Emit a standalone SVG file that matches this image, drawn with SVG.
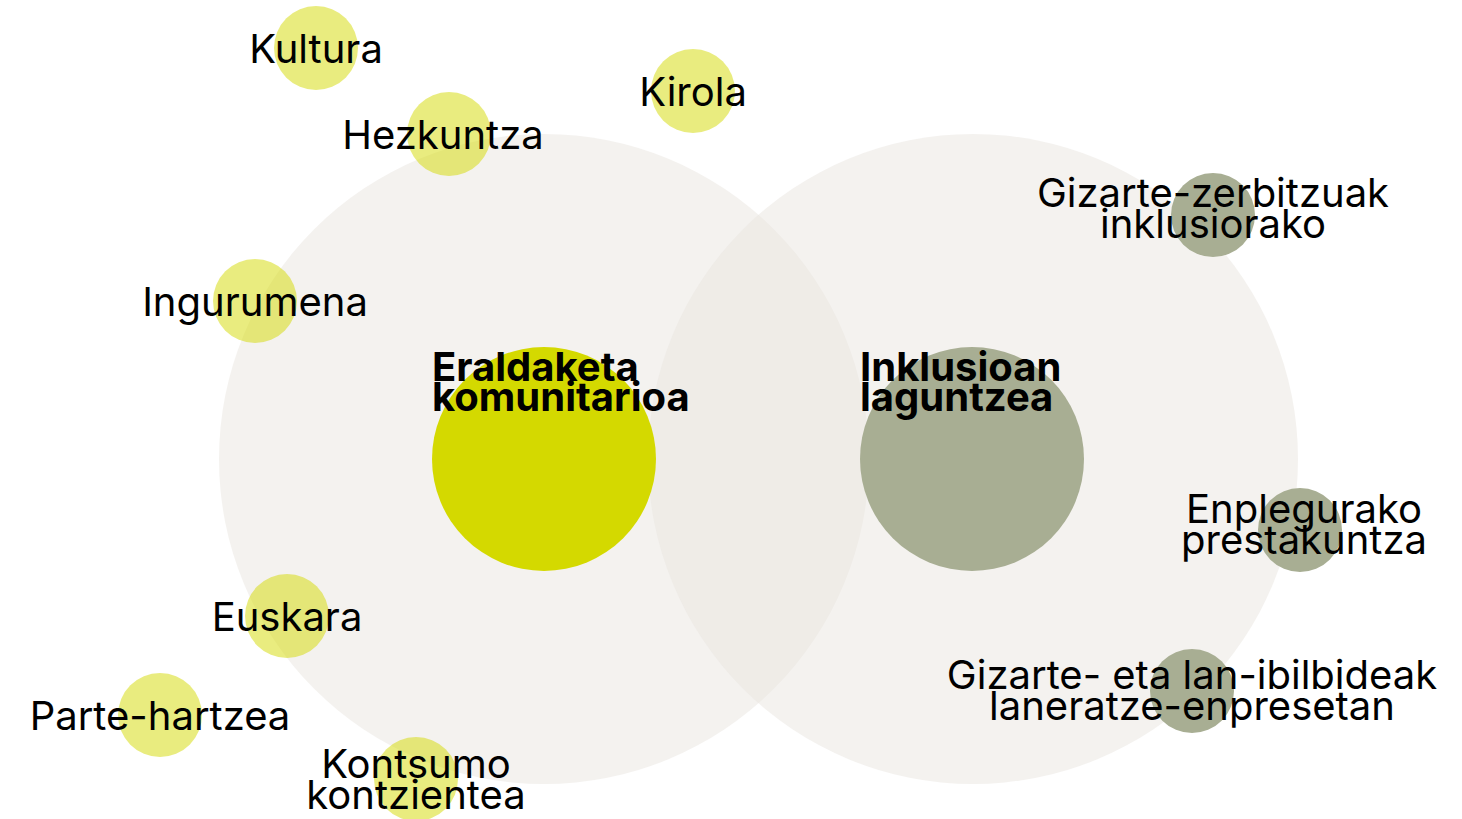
<svg xmlns="http://www.w3.org/2000/svg" width="1462" height="819" viewBox="0 0 1462 819">
<style>
.big{fill:#e9e5df;fill-opacity:0.5}
.sy{fill:#d4d900;fill-opacity:0.5}
.sg{fill:#a8ae93}
.lbl{font-family:Inter,"Liberation Sans",sans-serif;font-size:40px;fill:#000;text-anchor:middle}
.ttl{font-family:Inter,"Liberation Sans",sans-serif;font-size:40px;font-weight:700;fill:#000}
</style>
<rect width="1462" height="819" fill="#fff"/>
<g id="area-left"><circle class="big" cx="544" cy="459" r="325"/></g>
<g id="area-right"><circle class="big" cx="973" cy="459" r="325"/></g>
<g id="connectors"></g>
<g id="eraldaketa">
<circle cx="544" cy="459" r="112" fill="#d4d900"/>
<text class="ttl" x="432" y="381">Eraldaketa</text>
<text class="ttl" x="432" y="411">komunitarioa</text>
</g>
<g id="inklusioan">
<circle cx="972" cy="459" r="112" fill="#a8ae93"/>
<text class="ttl" x="860" y="381">Inklusioan</text>
<text class="ttl" x="860" y="411">laguntzea</text>
</g>
<g id="kultura"><circle class="sy" cx="316" cy="48" r="42"/><text class="lbl" x="316" y="63">Kultura</text></g>
<g id="hezkuntza"><circle class="sy" cx="449" cy="134" r="42"/><text class="lbl" x="443" y="149">Hezkuntza</text></g>
<g id="kirola"><circle class="sy" cx="693" cy="91" r="42"/><text class="lbl" x="693" y="106">Kirola</text></g>
<g id="ingurumena"><circle class="sy" cx="255" cy="301" r="42"/><text class="lbl" x="255" y="316">Ingurumena</text></g>
<g id="euskara"><circle class="sy" cx="287" cy="616" r="42"/><text class="lbl" x="287" y="631">Euskara</text></g>
<g id="parte-hartzea"><circle class="sy" cx="160" cy="715" r="42"/><text class="lbl" x="160" y="730">Parte-hartzea</text></g>
<g id="kontsumo"><circle class="sy" cx="416" cy="779" r="42"/><text class="lbl" x="416" y="778">Kontsumo</text><text class="lbl" x="416" y="809">kontzientea</text></g>
<g id="gizarte-zerbitzuak"><circle class="sg" cx="1213" cy="215" r="42"/><text class="lbl" x="1213" y="207">Gizarte-zerbitzuak</text><text class="lbl" x="1213" y="238">inklusiorako</text></g>
<g id="enplegurako"><circle class="sg" cx="1300" cy="530" r="42"/><text class="lbl" x="1304" y="523">Enplegurako</text><text class="lbl" x="1304" y="554">prestakuntza</text></g>
<g id="gizarte-lan"><circle class="sg" cx="1192" cy="691" r="42"/><text class="lbl" x="1192" y="689">Gizarte- eta lan-ibilbideak</text><text class="lbl" x="1192" y="720">laneratze-enpresetan</text></g>
</svg>
